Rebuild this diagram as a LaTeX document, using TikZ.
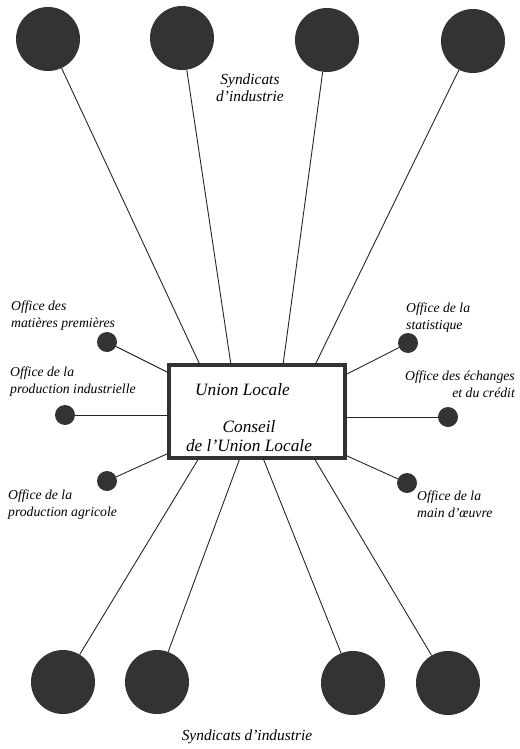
\documentclass[tikz,border=0pt]{standalone}
\usepackage{fontspec}
\setmainfont{Liberation Serif}
\definecolor{dark}{HTML}{333335}
\newcommand{\labfont}{\fontsize{13.7}{16.5}\selectfont\itshape}
\newcommand{\synfont}{\fontsize{15.4}{17}\selectfont\itshape}
\newcommand{\boxfont}{\fontsize{17.3}{19}\selectfont\itshape}
\begin{document}
\begin{tikzpicture}[x=1pt,y=-1pt,
  big/.style={circle,fill=dark,minimum size=64pt,inner sep=0pt},
  small/.style={circle,fill=dark,minimum size=20pt,inner sep=0pt},
  link/.style={line width=0.9pt,draw=black!85},
  lab/.style={font=\labfont,inner sep=0pt,align=left},
  syn/.style={font=\synfont,inner sep=0pt,align=center},
  btxt/.style={font=\boxfont,inner sep=0pt}]
\useasboundingbox (0,0) rectangle (519,749);
% central box
\node[draw=dark,line width=4pt,minimum width=176pt,minimum height=93pt,inner sep=0pt] (box) at (257,411.5) {};
% attachment points on the box border
\coordinate (bt1) at (200,365);
\coordinate (bt2) at (231,365);
\coordinate (bt3) at (283,365);
\coordinate (bt4) at (315,365);
\coordinate (bb1) at (199,458);
\coordinate (bb2) at (240,458);
\coordinate (bb3) at (263,458);
\coordinate (bb4) at (314,458);
\coordinate (bl1) at (169,373);
\coordinate (bl2) at (169,415);
\coordinate (bl3) at (169,453);
\coordinate (br1) at (345,375);
\coordinate (br2) at (345,417);
\coordinate (br3) at (345,455);
% big circles
\node[big] (t1) at (48,39) {};
\node[big] (t2) at (182,38) {};
\node[big] (t3) at (327,40) {};
\node[big] (t4) at (473,41) {};
\node[big] (u1) at (63,682) {};
\node[big] (u2) at (157,682) {};
\node[big] (u3) at (353,683) {};
\node[big] (u4) at (448,683) {};
% small circles
\node[small] (l1) at (107,342) {};
\node[small] (l2) at (65,415) {};
\node[small] (l3) at (107,481) {};
\node[small] (r1) at (408,343) {};
\node[small] (r2) at (448,417) {};
\node[small] (r3) at (407,483) {};
% connectors
\draw[link] (t1) -- (bt1);
\draw[link] (t2) -- (bt2);
\draw[link] (t3) -- (bt3);
\draw[link] (t4) -- (bt4);
\draw[link] (bb1) -- (u1);
\draw[link] (bb2) -- (u2);
\draw[link] (bb3) -- (u3);
\draw[link] (bb4) -- (u4);
\draw[link] (l1) -- (bl1);
\draw[link] (l2) -- (bl2);
\draw[link] (l3) -- (bl3);
\draw[link] (r1) -- (br1);
\draw[link] (r2) -- (br2);
\draw[link] (r3) -- (br3);
% box texts
\node[btxt,anchor=base west] (tu) at (195,395) {Union Locale};
\node[btxt,anchor=base] (tc) at (249,432) {Conseil};
\node[btxt,anchor=base] (td) at (249,451) {de l'Union Locale};
% labels (anchor base = baseline of the last line)
\node[lab,anchor=base west] (a1) at (11,327) {Office des\\matières premières};
\node[lab,anchor=base west] (a2) at (10,393) {Office de la\\production industrielle};
\node[lab,anchor=base west] (a3) at (8,516) {Office de la\\production agricole};
\node[lab,anchor=base west] (a4) at (406,329) {Office de la\\statistique};
\node[lab,anchor=base east,align=right] (a5) at (515,397) {Office des échanges\\et du crédit};
\node[lab,anchor=base west] (a6) at (417,517) {Office de la\\main d'œuvre};
\node[syn,anchor=base] (s1) at (250,102) {Syndicats\\d'industrie};
\node[syn,anchor=base] (s2) at (247,740) {Syndicats d'industrie};
\end{tikzpicture}
\end{document}
